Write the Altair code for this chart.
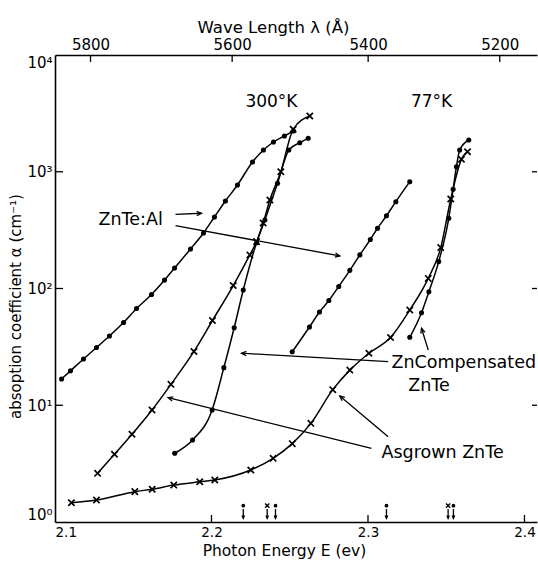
import math
import altair as alt
import pandas as pd

FONT = "DejaVu Sans"

# ---------------- data ----------------
# 300 K curves
al300_E = [2.1042, 2.1099, 2.1182, 2.1265, 2.1348, 2.1438, 2.1521, 2.1617, 2.1700, 2.1764,
           2.1866, 2.1949, 2.2019, 2.2089, 2.2166, 2.2262, 2.2332, 2.2396, 2.2466, 2.2524]
al300_a = [16.8, 19.7, 24.9, 31.2, 39.2, 51.1, 67.4, 88.8, 118, 150,
           218, 299, 410, 562, 770, 1212, 1536, 1798, 2024, 2234]

asg300_E = [2.1272, 2.1380, 2.1492, 2.1620, 2.1741, 2.1888, 2.2006, 2.2139, 2.2245, 2.2288,
            2.2330, 2.2373, 2.2443, 2.2522, 2.2628]
asg300_a = [2.61, 3.80, 5.64, 9.11, 15.1, 28.9, 53.2, 106, 194, 252,
            364, 573, 1001, 2310, 3002]

zc300_E = [2.1765, 2.1879, 2.2004, 2.2079, 2.2145, 2.2203, 2.2288, 2.2341, 2.2422, 2.2494,
           2.2564, 2.2618]
zc300_a = [3.88, 5.04, 9.11, 21.0, 46.1, 97.1, 247, 386, 796, 1536, 1774, 1934]

# 77 K curves
al77_E = [2.2516, 2.2626, 2.2690, 2.2750, 2.2813, 2.2884, 2.2948, 2.3015, 2.3061, 2.3118,
          2.3178, 2.3267]
al77_a = [28.7, 46.8, 62.9, 78.9, 104, 143, 194, 263, 328, 420, 554, 822]

asg77_E = [2.1105, 2.1265, 2.1510, 2.1621, 2.1759, 2.1925, 2.2021, 2.2251, 2.2394, 2.2516,
           2.2635, 2.2775, 2.2884, 2.3006, 2.3144, 2.3267, 2.3385, 2.3465, 2.3529, 2.3597,
           2.3636]
asg77_a = [1.46, 1.54, 1.82, 1.91, 2.07, 2.21, 2.29, 2.79, 3.51, 4.69,
           7.00, 13.6, 20.0, 27.9, 38.0, 65.4, 122, 224, 584, 1278, 1485]

zc77_E = [2.3267, 2.3342, 2.3389, 2.3452, 2.3516, 2.3544, 2.3565, 2.3586, 2.3644]
zc77_a = [38.2, 62.0, 93.9, 170, 399, 707, 1105, 1536, 1870]

# annotation texts
head_text = ["300°K", "77°K"]
head_E = [2.2383, 2.3406]
head_a = [3956, 3956]

side_text = ["ZnTe:Al", "ZnCompensated", "ZnTe", "Asgrown ZnTe"]
side_E = [2.1278, 2.3150, 2.3257, 2.3086]
side_a = [386, 23.0, 14.6, 3.90]

# annotation arrows (start -> arrow head)
arrow_E0 = [2.1770, 2.1770, 2.3129, 2.3385, 2.3022, 2.3129]
arrow_a0 = [432, 345, 23.6, 29.7, 4.28, 5.38]
arrow_E1 = [2.1936, 2.2820, 2.2192, 2.3342, 2.1723, 2.2820]
arrow_a1 = [441, 190, 27.9, 45.6, 11.6, 12.0]

# band-edge markers along the energy axis
gap_E = [2.2203, 2.2356, 2.2409, 2.3118, 2.3512, 2.3546]
gap_marker = ["dot", "cross", "dot", "dot", "cross", "dot"]
gap_mark_a = 1.38
gap_arrow_top = 1.29
gap_arrow_tip = 1.075

# axes
x_ticks = [2.1, 2.2, 2.3, 2.4]
top_E = [2.1227, 2.2132, 2.3001, 2.3842]
top_labels = ["5800", "5600", "5400", "5200"]
y_ticks = [1, 10, 100, 1000, 10000]
y_labels = ["10⁰", "10¹", "10²", "10³", "10⁴"]

# ---------------- layout ----------------
W, H = 482, 467
X_DOM = [2.1, 2.408]
KX = W / (X_DOM[1] - X_DOM[0])
KY = H / 4.0

rows = []
for name, Es, As, mk in [
    ("al300", al300_E, al300_a, "dot"),
    ("asg300", asg300_E, asg300_a, "cross"),
    ("zc300", zc300_E, zc300_a, "dot"),
    ("al77", al77_E, al77_a, "dot"),
    ("asg77", asg77_E, asg77_a, "cross"),
    ("zc77", zc77_E, zc77_a, "dot"),
]:
    for e, a in zip(Es, As):
        rows.append({"curve": name, "E": e, "alpha": a, "marker": mk})
curves = pd.DataFrame(rows)

def angle(e0, a0, e1, a1):
    dx = (e1 - e0) * KX
    up = (math.log10(a1) - math.log10(a0)) * KY
    return math.degrees(math.atan2(dx, up)) % 360

arrows = pd.DataFrame({
    "E0": arrow_E0, "a0": arrow_a0, "E1": arrow_E1, "a1": arrow_a1,
    "ang": [angle(*t) for t in zip(arrow_E0, arrow_a0, arrow_E1, arrow_a1)],
})
gaps = pd.DataFrame({
    "E": gap_E, "marker": gap_marker,
    "am": [gap_mark_a] * len(gap_E),
    "a0": [gap_arrow_top] * len(gap_E),
    "a1": [gap_arrow_tip] * len(gap_E),
    "ang": [180] * len(gap_E),
})
heads = pd.DataFrame({"text": head_text, "E": head_E, "alpha": head_a})
sides = pd.DataFrame({"text": side_text, "E": side_E, "alpha": side_a})

xs = alt.Scale(domain=X_DOM, nice=False, zero=False)
ys = alt.Scale(type="log", domain=[1, 10000], nice=False)

x_axis = alt.Axis(values=x_ticks, format=".1f", title="Photon Energy E (ev)",
                  labelFontSize=13.5, labelPadding=3, titleFontSize=15.5,
                  titlePadding=5, titleX=229)
ylab_expr = " : ".join(
    f"abs(datum.value - {v}) < {v * 0.01} ? '{l}'" for v, l in zip(y_ticks, y_labels)
) + " : ''"
y_axis = alt.Axis(values=y_ticks, labelExpr=ylab_expr, labelFlush=True,
                  title="absoption coefficient α (cm⁻¹)", labelFontSize=15,
                  labelPadding=3, titleFontSize=15, titlePadding=3, titleY=251)

def X(f):
    return alt.X(f + ":Q", scale=xs, axis=x_axis)

def Y(f):
    return alt.Y(f + ":Q", scale=ys, axis=y_axis)

CROSS = "M-1,-1L1,1M1,-1L-1,1"
VHEAD = "M-0.45,1L0,0L0.45,1"

base = alt.Chart(curves)
lines = base.mark_line(color="black", strokeWidth=1.5, interpolate="monotone").encode(
    x=X("E"), y=Y("alpha"), detail="curve:N")
dots = base.transform_filter("datum.marker == 'dot'").mark_point(
    shape="circle", filled=True, color="black", size=26, opacity=1).encode(
    x=X("E"), y=Y("alpha"))
crosses = base.transform_filter("datum.marker == 'cross'").mark_point(
    shape=CROSS, filled=False, color="black", strokeWidth=1.7, size=40, opacity=1).encode(
    x=X("E"), y=Y("alpha"))

head_txt = alt.Chart(heads).mark_text(font=FONT, fontSize=17, align="center",
                                      baseline="middle", color="black").encode(
    x=X("E"), y=Y("alpha"), text="text:N")
side_txt = alt.Chart(sides).mark_text(font=FONT, fontSize=17.5, align="left",
                                      baseline="middle", color="black").encode(
    x=X("E"), y=Y("alpha"), text="text:N")

arrow_lines = alt.Chart(arrows).mark_rule(color="black", strokeWidth=1.3).encode(
    x=X("E0"), x2="E1:Q", y=Y("a0"), y2="a1:Q")
arrow_heads = alt.Chart(arrows).mark_point(shape=VHEAD, filled=False, color="black",
                                           strokeWidth=1.3, size=90, opacity=1).encode(
    x=X("E1"), y=Y("a1"), angle=alt.Angle("ang:Q", scale=None))

gbase = alt.Chart(gaps)
gap_dots = gbase.transform_filter("datum.marker == 'dot'").mark_point(
    shape="circle", filled=True, color="black", size=14, opacity=1).encode(
    x=X("E"), y=Y("am"))
gap_cross = gbase.transform_filter("datum.marker == 'cross'").mark_point(
    shape=CROSS, filled=False, color="black", strokeWidth=1.4, size=18, opacity=1).encode(
    x=X("E"), y=Y("am"))
gap_lines = gbase.mark_rule(color="black", strokeWidth=1.3).encode(
    x=X("E"), y=Y("a0"), y2="a1:Q")
gap_heads = gbase.mark_point(shape=VHEAD, filled=False, color="black",
                             strokeWidth=1.3, size=30, opacity=1).encode(
    x=X("E"), y=Y("a1"), angle=alt.Angle("ang:Q", scale=None))

bt = alt.Chart(pd.DataFrame({"E": x_ticks[1:]})).mark_rule(color="black", strokeWidth=1.3).encode(
    x=X("E"), y=alt.value(H), y2=alt.value(H - 7))
lt = alt.Chart(pd.DataFrame({"alpha": y_ticks[1:-1]})).mark_rule(color="black", strokeWidth=1.3).encode(
    y=Y("alpha"), x=alt.value(0), x2=alt.value(8))
rt = alt.Chart(pd.DataFrame({"alpha": y_ticks[1:-1]})).mark_rule(color="black", strokeWidth=1.3).encode(
    y=Y("alpha"), x=alt.value(W - 5), x2=alt.value(W))

main = alt.layer(lines, dots, crosses, head_txt, side_txt, arrow_lines, arrow_heads,
                 gap_lines, gap_heads, gap_dots, gap_cross, bt, lt, rt)

top_expr = " : ".join(
    f"abs(datum.value - {e}) < 0.0005 ? '{l}'" for e, l in zip(top_E, top_labels)
) + " : ''"
top = alt.Chart(pd.DataFrame({"E": top_E})).mark_rule(color="black", strokeWidth=1.3).encode(
    x=alt.X("E:Q", scale=xs,
            axis=alt.Axis(orient="top", values=top_E, labelExpr=top_expr,
                          title="Wave Length λ (Å)", labelFontSize=15, labelPadding=3,
                          titleFontSize=16.5, titlePadding=2, titleX=218)),
    y=alt.value(0), y2=alt.value(7))

chart = alt.layer(main, top).resolve_scale(x="independent").properties(
    width=W, height=H,
    padding={"left": 55, "top": 55, "right": 1, "bottom": 43},
    autosize="none",
    background="white",
).configure_view(stroke=None).configure_axis(
    grid=False, ticks=False, domainColor="black", domainWidth=1.6,
    labelFont=FONT, titleFont=FONT, labelColor="black", titleColor="black",
    titleFontWeight="normal",
)

chart.save("out.html", embed_options={"renderer": "svg", "actions": False})
